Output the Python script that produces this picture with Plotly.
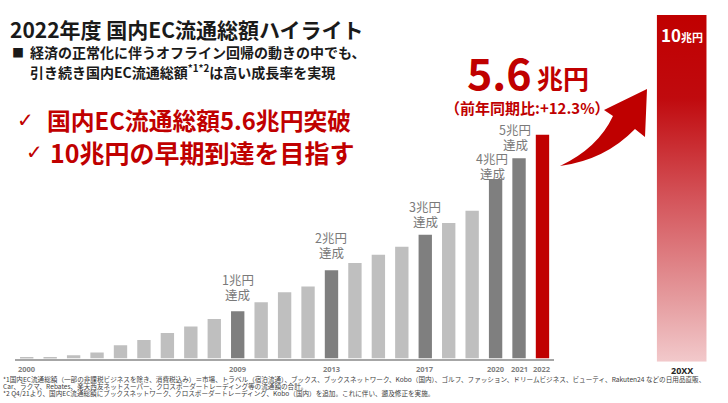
import plotly.graph_objects as go

# ---------------- data ----------------
years = [str(y) for y in range(2000, 2023)]
gms_trillion_yen = [0.03, 0.04, 0.08, 0.15, 0.33, 0.46, 0.64, 0.80, 0.99, 1.18,
                    1.41, 1.66, 1.80, 2.21, 2.39, 2.60, 2.80, 3.10, 3.39, 3.70,
                    4.49, 5.01, 5.60]
tick_years = ['2000', '2009', '2013', '2017', '2020', '2021', '2022']
milestone_years = ['2009', '2013', '2017', '2020', '2021']
milestone_labels = ['1兆円', '2兆円', '3兆円', '4兆円', '5兆円']
milestone_suffix = '達成'
current_year = '2022'
target_label = '20XX'
target_value = 10
target_text_num = '10'
target_text_unit = '兆円'
headline_num = '5.6'
headline_unit = '兆円'
yoy_text = '（前年同期比:+12.3%）'

title_text = '2022年度 国内EC流通総額ハイライト'
sub_line1 = '経済の正常化に伴うオフライン回帰の動きの中でも、'
sub_line2 = '引き続き国内EC流通総額<sup>*1*2</sup>は高い成長率を実現'
check_line1 = '国内EC流通総額5.6兆円突破'
check_line2 = '10兆円の早期到達を目指す'
footnotes = [
    '*1国内EC流通総額（一部の非課税ビジネスを除き、消費税込み）＝市場、トラベル（宿泊流通）、ブックス、ブックスネットワーク、Kobo（国内）、ゴルフ、ファッション、ドリームビジネス、ビューティ、Rakuten24 などの日用品直販、',
    'Car、ラクマ、Rebates、楽天西友ネットスーパー、クロスボーダートレーディング等の流通額の合計。',
    '*2 Q4/21より、国内EC流通総額にブックスネットワーク、クロスボーダートレーディング、Kobo（国内）を追加。これに伴い、遡及修正を実施。',
]

# ---------------- style ----------------
W, H = 728, 403
RED = '#c00000'
LIGHT = '#bfbfbf'
DARK = '#7f7f7f'
FONT = 'Noto Sans CJK JP'


def fx(px):
    return px / W


def fy(py):
    return 1 - py / H


colors = [RED if y == current_year else (DARK if y in milestone_years else LIGHT) for y in years]
idx = {y: i for i, y in enumerate(years)}

fig = go.Figure()
fig.add_trace(go.Bar(x=list(range(len(years))), y=gms_trillion_yen,
                     marker=dict(color=colors, line=dict(width=0)),
                     width=0.57, hoverinfo='skip', showlegend=False))

# target bar (gradient) on its own small subplot
half = 0.5
fig.add_trace(go.Scatter(
    x=[-half, -half, half, half], y=[0, target_value, target_value, 0],
    fill='toself', mode='lines', line=dict(width=0, color='rgba(0,0,0,0)'),
    fillgradient=dict(type='vertical',
                      colorscale=[[0, '#f2c9cb'], [0.18, '#e59b9e'], [0.47, '#d4545a'],
                                  [0.76, '#c00a0e'], [1, '#c00000']]),
    xaxis='x2', yaxis='y2', hoverinfo='skip', showlegend=False))

px_per_unit = 39.95
baseline_px = 358.5

fig.update_layout(
    width=W, height=H, margin=dict(l=0, r=0, t=0, b=0, pad=0),
    paper_bgcolor='white', plot_bgcolor='rgba(0,0,0,0)',
    font=dict(family=FONT),
    xaxis=dict(domain=[fx(15.0), fx(554.2)], range=[-0.5, len(years) - 0.5],
               showticklabels=False, ticks='', showgrid=False,
               showline=True, linecolor='#a6a6a6', linewidth=2, zeroline=False,
               fixedrange=True),
    yaxis=dict(domain=[fy(baseline_px), 1], range=[0, baseline_px / px_per_unit],
               showticklabels=False, showgrid=False, zeroline=False, showline=False,
               fixedrange=True),
    xaxis2=dict(domain=[fx(656.7), fx(706.7)], range=[-half, half], anchor='y2',
                showticklabels=False, ticks='', showgrid=False, zeroline=False, showline=False),
    yaxis2=dict(domain=[fy(361.7), fy(15)], range=[0, target_value], anchor='x2',
                showticklabels=False, showgrid=False, zeroline=False, showline=False),
)

ann = []


def txt(text, x, y, size, color, xanchor='left', yanchor='middle', family=FONT, bold=True):
    t = f'<b>{text}</b>' if bold else text
    ann.append(dict(text=t, x=fx(x), y=fy(y), xref='paper', yref='paper',
                    xanchor=xanchor, yanchor=yanchor, showarrow=False,
                    font=dict(size=size, color=color, family=family)))


txt(title_text, 8, 29.5, 21, '#1a1a1a')
txt('■', 17.5, 52, 12, '#1a1a1a', xanchor='center', bold=False)
txt(sub_line1, 28, 52, 14, '#1a1a1a')
txt(sub_line2, 28, 71, 14, '#1a1a1a')
txt('✓', 25, 120, 20, RED, xanchor='center', family='DejaVu Sans', bold=False)
txt(check_line1, 45, 120, 23.8, RED)
txt('✓', 34, 152, 20, RED, xanchor='center', family='DejaVu Sans', bold=False)
txt(check_line2, 48, 152, 25, RED)
txt(headline_num, 465, 71, 43, RED)
txt(headline_unit, 535, 77, 26, RED)
txt(yoy_text, 443, 108, 15, RED)
for i, line in enumerate(footnotes):
    txt(line, 1, 379 + 7 * i, 6.6, '#404040', bold=False)

# year labels under the baseline
for yr in tick_years:
    ann.append(dict(text=f'<b>{yr}</b>', x=idx[yr], y=fy(baseline_px), xref='x', yref='paper',
                    xanchor='center', yanchor='top', yshift=-3, showarrow=False,
                    font=dict(size=7.5, color='#7f7f7f', family='Noto Sans')))
# 20XX label
ann.append(dict(text=f'<b>{target_label}</b>', x=0, y=fy(361.7), xref='x2', yref='paper',
                xanchor='center', yanchor='top', yshift=0, showarrow=False,
                font=dict(size=9, color='#262626', family='Noto Sans')))

# milestone labels (two lines, each placed relative to its bar top)
suffix_yshift = [16.5, 17.5, 13, 6, 13.5]
line_gap = 15
label_xshift = [0, 0, 0, -3.5, -4]
for yr, lab, ys, xs in zip(milestone_years, milestone_labels, suffix_yshift, label_xshift):
    for text, shift in ((lab, ys + line_gap), (milestone_suffix, ys)):
        ann.append(dict(text=text, x=idx[yr], y=gms_trillion_yen[idx[yr]],
                        xref='x', yref='y', xanchor='center', yanchor='middle',
                        yshift=shift, xshift=xs, showarrow=False,
                        font=dict(size=12.5, color='#7a7a7a', family=FONT)))

# target label inside the gradient bar
ann.append(dict(text=f"<b>{target_text_num}<span style='font-size:11px'>{target_text_unit}</span></b>",
                x=0, y=target_value, xref='x2', yref='y2', xanchor='center', yanchor='top',
                yshift=-5, showarrow=False, font=dict(size=17, color='white', family=FONT)))

fig.update_layout(annotations=ann)

# curved arrow
P = lambda x, y: f'{fx(x):.5f},{fy(y):.5f}'
arrow_path = (f'M {P(560,166)} Q {P(598,148)} {P(613,116)} L {P(604,110)} L {P(647,89)} '
              f'L {P(645,137)} L {P(635,129)} Q {P(605,160)} {P(560,166)} Z')
fig.add_shape(type='path', path=arrow_path, xref='paper', yref='paper',
              fillcolor='#bf0000', line=dict(width=0))

fig.write_html('out.html', config={'displayModeBar': False},
               post_script="document.body.style.margin='0px';document.body.style.overflow='hidden';")
